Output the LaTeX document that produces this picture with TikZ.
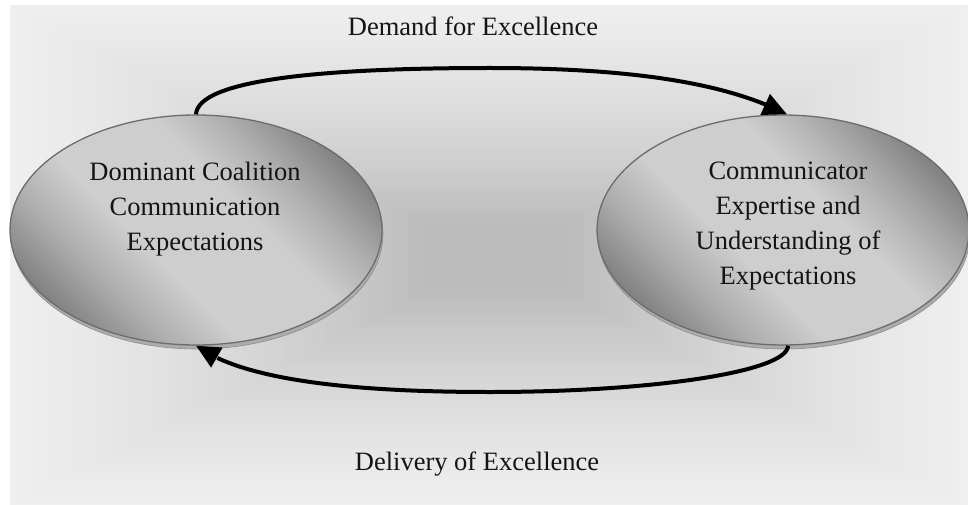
\documentclass[tikz,border=0pt]{standalone}
\usepackage{fontspec}
\setmainfont{Liberation Serif}
\usetikzlibrary{arrows.meta,bending,shapes.geometric}
\definecolor{edark}{RGB}{128,128,128}
\definecolor{emid}{RGB}{172,172,172}
\definecolor{elight}{RGB}{206,206,206}
\definecolor{eborder}{RGB}{108,108,108}
\definecolor{rimc}{RGB}{172,172,172}
\definecolor{rimd}{RGB}{140,140,140}
\pgfdeclareverticalshading{ovalshade}{100bp}{color(0bp)=(edark); color(24bp)=(edark);
  color(33bp)=(emid); color(42bp)=(elight); color(58bp)=(elight);
  color(67bp)=(emid); color(76bp)=(edark); color(100bp)=(edark)}
\begin{document}
\begin{tikzpicture}[x=1pt,y=-1pt,
  oval/.style={ellipse, minimum width=372pt, minimum height=230pt, inner sep=0pt,
    draw=eborder, line width=1.3pt, shading=ovalshade, shading angle=-45},
  rimoval/.style={ellipse, minimum width=372pt, minimum height=230pt, inner sep=0pt,
    fill=rimc, draw=rimd, line width=0.6pt},
  txt/.style={font=\fontsize{26.5}{35}\selectfont, align=center, inner sep=0pt, text=black!92},
  flow/.style={line width=4pt, -{Triangle[length=24pt,width=22pt,flex]}}
]
\useasboundingbox (0,0) rectangle (968,505);
\foreach \i in {0,...,50}{
  \pgfmathsetmacro\t{\i/50}
  \pgfmathsetmacro\f{\t*(0.6+0.4*\t)}
  \pgfmathtruncatemacro\v{239-51*\f}
  \definecolor{bgc}{RGB}{\v,\v,\v}
  \fill[bgc] ({10+415*\t},{5+218*\t}) rectangle ({968-400*\t},{505-212*\t});
}
\node[rimoval] (Lrim) at (197,234) {};
\node[oval] (L) at (196,230) {};
\node[rimoval] (Rrim) at (784,234) {};
\node[oval] (R) at (783,230) {};
\node[txt, anchor=north] (Lt) at (195,162) {Dominant Coalition\\Communication\\Expectations};
\node[txt, anchor=north] (Rt) at (788,162) {Communicator\\Expertise and\\Understanding of\\Expectations};
\node[txt, anchor=base] (top) at (473,36) {Demand for Excellence};
\node[txt, anchor=base] (bot) at (477,470) {Delivery of Excellence};
\draw[flow] (L.north) .. controls (198,80) and (320,68) .. (490,68)
  .. controls (640,68) and (730,85) .. ([xshift=4pt]R.north);
\draw[flow] ([xshift=5pt]R.south) .. controls (788,372) and (650,392) .. (490,392)
  .. controls (340,392) and (240,378) .. (L.south);
\end{tikzpicture}
\end{document}
